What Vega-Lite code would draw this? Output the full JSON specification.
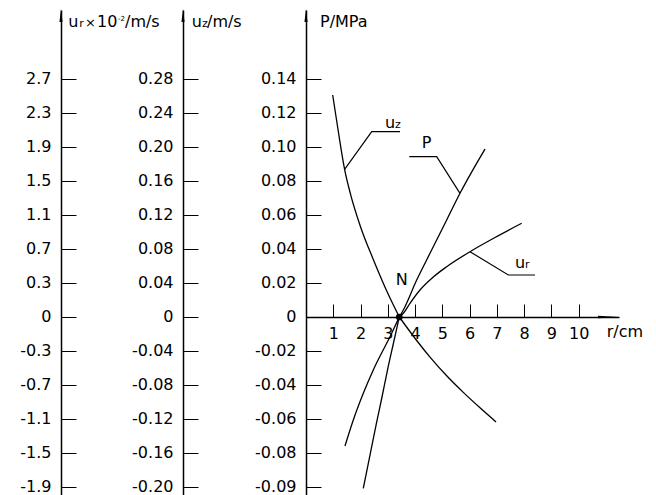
{
  "$schema": "https://vega.github.io/schema/vega-lite/v6.json",
  "width": 313,
  "height": 485,
  "autosize": {"type": "none"},
  "padding": {"left": 306, "top": 10, "right": 37, "bottom": 0},
  "background": "white",
  "config": {
    "view": {"stroke": null},
    "text": {"font": "DejaVu Sans", "color": "black"},
    "axis": {"domainColor": "black", "domainWidth": 1.5, "tickColor": "black", "tickWidth": 1, "labelFont": "DejaVu Sans", "labelFontSize": 16, "labelColor": "black", "labelFlush": false, "labelOverlap": false, "grid": false},
    "axisY": {"tickSize": -15, "labelPadding": 25},
    "axisX": {"tickSize": -13, "labelPadding": 21}
  },
  "datasets": {
    "curves": [
      {"series": "uz", "part": "upper", "x": 0.979, "y": 0.1306},
      {"series": "uz", "part": "upper", "x": 1.177, "y": 0.1100},
      {"series": "uz", "part": "upper", "x": 1.416, "y": 0.08688},
      {"series": "uz", "part": "upper", "x": 1.625, "y": 0.07276},
      {"series": "uz", "part": "upper", "x": 1.999, "y": 0.05312},
      {"series": "uz", "part": "upper", "x": 2.476, "y": 0.03353},
      {"series": "uz", "part": "upper", "x": 2.945, "y": 0.01588},
      {"series": "uz", "part": "upper", "x": 3.422, "y": 0},
      {"series": "uz", "part": "lower", "x": 3.422, "y": 0},
      {"series": "uz", "part": "lower", "x": 4.060, "y": -0.01382},
      {"series": "uz", "part": "lower", "x": 4.548, "y": -0.02359},
      {"series": "uz", "part": "lower", "x": 5.160, "y": -0.03459},
      {"series": "uz", "part": "lower", "x": 5.769, "y": -0.04435},
      {"series": "uz", "part": "lower", "x": 6.382, "y": -0.05341},
      {"series": "uz", "part": "lower", "x": 6.969, "y": -0.06171},
      {"series": "P", "part": "lower", "x": 1.430, "y": -0.07588},
      {"series": "P", "part": "lower", "x": 1.735, "y": -0.06059},
      {"series": "P", "part": "lower", "x": 2.102, "y": -0.04488},
      {"series": "P", "part": "lower", "x": 2.468, "y": -0.03118},
      {"series": "P", "part": "lower", "x": 3.143, "y": -0.00959},
      {"series": "P", "part": "lower", "x": 3.422, "y": 0},
      {"series": "P", "part": "upper", "x": 3.422, "y": 0},
      {"series": "P", "part": "upper", "x": 3.569, "y": 0.00412},
      {"series": "P", "part": "upper", "x": 4.060, "y": 0.02176},
      {"series": "P", "part": "upper", "x": 4.548, "y": 0.03747},
      {"series": "P", "part": "upper", "x": 5.160, "y": 0.05706},
      {"series": "P", "part": "upper", "x": 5.648, "y": 0.07276},
      {"series": "P", "part": "upper", "x": 6.565, "y": 0.09882},
      {"series": "ur", "part": "lower", "x": 2.102, "y": -0.10076},
      {"series": "ur", "part": "lower", "x": 2.347, "y": -0.08118},
      {"series": "ur", "part": "lower", "x": 2.586, "y": -0.06235},
      {"series": "ur", "part": "lower", "x": 2.787, "y": -0.04706},
      {"series": "ur", "part": "lower", "x": 2.989, "y": -0.03118},
      {"series": "ur", "part": "lower", "x": 3.209, "y": -0.01529},
      {"series": "ur", "part": "lower", "x": 3.422, "y": 0},
      {"series": "ur", "part": "upper", "x": 3.422, "y": 0},
      {"series": "ur", "part": "upper", "x": 3.569, "y": 0.00218},
      {"series": "ur", "part": "upper", "x": 3.814, "y": 0.00806},
      {"series": "ur", "part": "upper", "x": 4.181, "y": 0.01588},
      {"series": "ur", "part": "upper", "x": 4.669, "y": 0.02353},
      {"series": "ur", "part": "upper", "x": 5.160, "y": 0.02959},
      {"series": "ur", "part": "upper", "x": 6.015, "y": 0.03841},
      {"series": "ur", "part": "upper", "x": 6.932, "y": 0.04676},
      {"series": "ur", "part": "upper", "x": 7.911, "y": 0.05512}
    ],
    "leaders": [
      {"leader": "uz", "x": 1.416, "y": 0.08688},
      {"leader": "uz", "x": 2.410, "y": 0.1090},
      {"leader": "uz", "x": 3.448, "y": 0.1090},
      {"leader": "P", "x": 5.648, "y": 0.07276},
      {"leader": "P", "x": 4.794, "y": 0.09429},
      {"leader": "P", "x": 3.789, "y": 0.09429},
      {"leader": "ur", "x": 6.015, "y": 0.03841},
      {"leader": "ur", "x": 7.420, "y": 0.02471},
      {"leader": "ur", "x": 8.399, "y": 0.02471}
    ],
    "labels": [
      {"x": 0.5135, "y": 0.17076, "t": "P/MPa"},
      {"x": -4.192, "y": 0.17076, "t": "u"},
      {"x": -3.631, "y": 0.17076, "t": "/m/s"},
      {"x": -8.718, "y": 0.17076, "t": "u"},
      {"x": -7.666, "y": 0.17076, "t": "10"},
      {"x": -6.639, "y": 0.17076, "t": "/m/s"},
      {"x": 2.897, "y": 0.1110, "t": "u"},
      {"x": 4.244, "y": 0.09924, "t": "P"},
      {"x": 7.666, "y": 0.02865, "t": "u"},
      {"x": 3.29, "y": 0.01882, "t": "N"},
      {"x": 11.03, "y": -0.01176, "t": "r/cm"}
    ],
    "subs": [
      {"x": -3.814, "y": 0.17076, "t": "z"},
      {"x": -8.315, "y": 0.17076, "t": "r"},
      {"x": 3.264, "y": 0.1110, "t": "z"},
      {"x": 8.032, "y": 0.02865, "t": "r"}
    ],
    "times": [
      {"x": -8.106, "y": 0.17076, "t": "×"}
    ],
    "sups": [
      {"x": -6.895, "y": 0.17441, "t": "-2"}
    ],
    "vArrows": [
      {"x": 0, "y": 0.17735},
      {"x": -4.511, "y": 0.17735},
      {"x": -8.986, "y": 0.17735}
    ],
    "hArrow": [{"x": 11.095, "y": 0}],
    "nPoint": [{"x": 3.422, "y": 0}]
  },
  "resolve": {"axis": {"y": "independent"}},
  "layer": [
    {
      "data": {"name": "curves"},
      "mark": {"type": "line", "color": "black", "strokeWidth": 1.3, "interpolate": "monotone"},
      "encoding": {
        "x": {"field": "x", "type": "quantitative", "scale": {"domain": [0, 11.48], "nice": false, "zero": false},
          "axis": {"orient": "bottom", "offset": -178, "values": [1,2,3,4,5,6,7,8,9,10], "format": "d", "title": null}},
        "y": {"field": "y", "type": "quantitative", "scale": {"domain": [-0.104706, 0.180588], "nice": false, "zero": false},
          "axis": {"orient": "left", "offset": 0, "values": [-0.1,-0.08,-0.06,-0.04,-0.02,0,0.02,0.04,0.06,0.08,0.1,0.12,0.14], "title": null,
            "labelExpr": "datum.value == 0 ? '0' : (datum.value < -0.095 ? '-0.09' : (datum.value < 0 ? '-' : '') + format(abs(datum.value), '.2f'))"}},
        "detail": [{"field": "series"}, {"field": "part"}]
      }
    },
    {
      "data": {"name": "leaders"},
      "mark": {"type": "line", "color": "black", "strokeWidth": 1.2},
      "encoding": {
        "x": {"field": "x", "type": "quantitative", "scale": {"domain": [0, 11.48], "nice": false, "zero": false},
          "axis": {"orient": "bottom", "offset": -178, "values": [1,2,3,4,5,6,7,8,9,10], "format": "d", "title": null}},
        "y": {"field": "y", "type": "quantitative", "scale": {"domain": [-0.104706, 0.180588], "nice": false, "zero": false},
          "axis": {"orient": "left", "offset": 123, "values": [-0.1,-0.08,-0.06,-0.04,-0.02,0,0.02,0.04,0.06,0.08,0.1,0.12,0.14], "title": null,
            "labelExpr": "datum.value == 0 ? '0' : (datum.value < 0 ? '-' : '') + format(abs(datum.value) * 2, '.2f')"}},
        "detail": {"field": "leader"}
      }
    },
    {
      "data": {"name": "nPoint"},
      "mark": {"type": "point", "filled": true, "color": "black", "size": 45, "opacity": 1},
      "encoding": {
        "x": {"field": "x", "type": "quantitative", "scale": {"domain": [0, 11.48], "nice": false, "zero": false},
          "axis": {"orient": "bottom", "offset": -178, "values": [1,2,3,4,5,6,7,8,9,10], "format": "d", "title": null}},
        "y": {"field": "y", "type": "quantitative", "scale": {"domain": [-0.104706, 0.180588], "nice": false, "zero": false},
          "axis": {"orient": "left", "offset": 245, "values": [-0.1,-0.08,-0.06,-0.04,-0.02,0,0.02,0.04,0.06,0.08,0.1,0.12,0.14], "title": null,
            "labelExpr": "datum.value == 0 ? '0' : (datum.value < 0 ? '-' : '') + format(0.3 + 0.4 * (abs(round(datum.value / 0.02)) - 1), '.1f')"}}
      }
    },
    {
      "data": {"name": "vArrows"},
      "mark": {"type": "point", "filled": true, "color": "black", "opacity": 1, "size": 169, "shape": "M0,-1L0.24,1L-0.24,1Z"},
      "encoding": {
        "x": {"field": "x", "type": "quantitative", "scale": {"domain": [0, 11.48], "nice": false, "zero": false},
          "axis": {"orient": "bottom", "offset": -178, "values": [1,2,3,4,5,6,7,8,9,10], "format": "d", "title": null}},
        "y": {"field": "y", "type": "quantitative", "scale": {"domain": [-0.104706, 0.180588], "nice": false, "zero": false}, "axis": null}
      }
    },
    {
      "data": {"name": "hArrow"},
      "mark": {"type": "point", "filled": true, "color": "black", "opacity": 1, "size": 441, "shape": "M1,0L-1,-0.13L-1,0.13Z"},
      "encoding": {
        "x": {"field": "x", "type": "quantitative", "scale": {"domain": [0, 11.48], "nice": false, "zero": false},
          "axis": {"orient": "bottom", "offset": -178, "values": [1,2,3,4,5,6,7,8,9,10], "format": "d", "title": null}},
        "y": {"field": "y", "type": "quantitative", "scale": {"domain": [-0.104706, 0.180588], "nice": false, "zero": false}, "axis": null}
      }
    },
    {
      "data": {"name": "labels"},
      "mark": {"type": "text", "align": "left", "baseline": "alphabetic", "fontSize": 16, "font": "DejaVu Sans", "color": "black"},
      "encoding": {
        "x": {"field": "x", "type": "quantitative", "scale": {"domain": [0, 11.48], "nice": false, "zero": false},
          "axis": {"orient": "bottom", "offset": -178, "values": [1,2,3,4,5,6,7,8,9,10], "format": "d", "title": null}},
        "y": {"field": "y", "type": "quantitative", "scale": {"domain": [-0.104706, 0.180588], "nice": false, "zero": false}, "axis": null},
        "text": {"field": "t"}
      }
    },
    {
      "data": {"name": "subs"},
      "mark": {"type": "text", "align": "left", "baseline": "alphabetic", "fontSize": 11, "font": "DejaVu Sans", "color": "black"},
      "encoding": {
        "x": {"field": "x", "type": "quantitative", "scale": {"domain": [0, 11.48], "nice": false, "zero": false},
          "axis": {"orient": "bottom", "offset": -178, "values": [1,2,3,4,5,6,7,8,9,10], "format": "d", "title": null}},
        "y": {"field": "y", "type": "quantitative", "scale": {"domain": [-0.104706, 0.180588], "nice": false, "zero": false}, "axis": null},
        "text": {"field": "t"}
      }
    },
    {
      "data": {"name": "times"},
      "mark": {"type": "text", "align": "left", "baseline": "alphabetic", "fontSize": 13, "font": "DejaVu Sans", "color": "black"},
      "encoding": {
        "x": {"field": "x", "type": "quantitative", "scale": {"domain": [0, 11.48], "nice": false, "zero": false},
          "axis": {"orient": "bottom", "offset": -178, "values": [1,2,3,4,5,6,7,8,9,10], "format": "d", "title": null}},
        "y": {"field": "y", "type": "quantitative", "scale": {"domain": [-0.104706, 0.180588], "nice": false, "zero": false}, "axis": null},
        "text": {"field": "t"}
      }
    },
    {
      "data": {"name": "sups"},
      "mark": {"type": "text", "align": "left", "baseline": "alphabetic", "fontSize": 7, "font": "DejaVu Sans", "color": "black"},
      "encoding": {
        "x": {"field": "x", "type": "quantitative", "scale": {"domain": [0, 11.48], "nice": false, "zero": false},
          "axis": {"orient": "bottom", "offset": -178, "values": [1,2,3,4,5,6,7,8,9,10], "format": "d", "title": null}},
        "y": {"field": "y", "type": "quantitative", "scale": {"domain": [-0.104706, 0.180588], "nice": false, "zero": false}, "axis": null},
        "text": {"field": "t"}
      }
    }
  ]
}
